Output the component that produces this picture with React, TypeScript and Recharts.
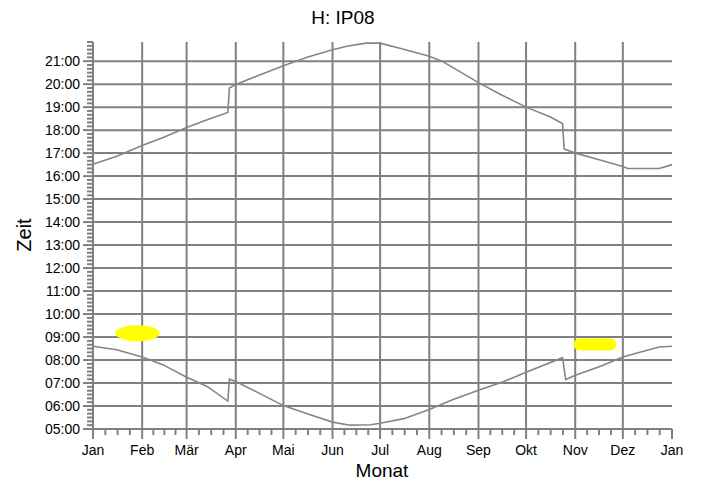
import React from 'react';
import { LineChart, Line, XAxis, YAxis, CartesianGrid, ReferenceArea } from 'recharts';

const monthLabels = ['Jan', 'Feb', 'Mär', 'Apr', 'Mai', 'Jun', 'Jul', 'Aug', 'Sep', 'Okt', 'Nov', 'Dez', 'Jan'];
const monthStarts = [0, 31, 59, 90, 120, 151, 181, 212, 243, 273, 304, 334, 365];

const hourLabels = ['05:00', '06:00', '07:00', '08:00', '09:00', '10:00', '11:00', '12:00', '13:00',
    '14:00', '15:00', '16:00', '17:00', '18:00', '19:00', '20:00', '21:00'];

// Sonnenuntergang (Tag im Jahr, Uhrzeit)
const sunsetDays = [0, 15, 31, 45, 59, 72, 85, 86, 90, 105, 120, 135, 151, 160, 172, 181, 194, 212, 220,
    243, 257, 273, 288, 296, 297, 304, 318, 334, 337, 357, 365];
const sunsetTimes = ['16:31', '16:52', '17:20', '17:42', '18:07', '18:27', '18:46', '19:50', '19:59', '20:24',
    '20:48', '21:10', '21:30', '21:39', '21:47', '21:47', '21:33', '21:13', '21:00', '20:04', '19:33', '19:00',
    '18:35', '18:17', '17:11', '17:00', '16:44', '16:25', '16:20', '16:20', '16:30'];

// Sonnenaufgang
const sunriseDays = [0, 15, 31, 44, 59, 72, 85, 86, 90, 105, 120, 135, 151, 162, 175, 181, 196, 212, 227,
    243, 259, 273, 296, 298, 304, 320, 334, 347, 357, 365];
const sunriseTimes = ['08:36', '08:27', '08:08', '07:48', '07:15', '06:51', '06:13', '07:10', '07:04', '06:33',
    '06:01', '05:40', '05:18', '05:10', '05:11', '05:15', '05:27', '05:51', '06:17', '06:41', '07:04', '07:28',
    '08:06', '07:09', '07:20', '07:44', '08:08', '08:23', '08:34', '08:36'];

// gelbe Markierungen
const markerDays = [[14, 42], [303, 330]];
const markerTimes = [['08:49', '09:31'], ['08:25', '08:56']];

const GRID = '#808080';
const FONT = 'Arial, "Liberation Sans", sans-serif';

const toMin = (s: string) => {
    const [h, m] = s.split(':').map(Number);
    return h * 60 + m;
};

const sunset = sunsetDays.map((d, i) => ({ day: d, t: toMin(sunsetTimes[i]) }));
const sunrise = sunriseDays.map((d, i) => ({ day: d, t: toMin(sunriseTimes[i]) }));

const hourValues = hourLabels.map(toMin);
const yTicks: number[] = [];
for (let v = 300; v <= 1310; v += 10) yTicks.push(v);

const xTicks: number[] = [];
monthStarts.forEach((s, i) => {
    xTicks.push(s);
    if (i < monthStarts.length - 1) {
        const len = monthStarts[i + 1] - s;
        for (let k = 1; k < 4; k++) xTicks.push(s + (len * k) / 4);
    }
});

const XTick = (props: any) => {
    const { x, y, payload } = props;
    const idx = monthStarts.indexOf(payload.value);
    const major = idx >= 0;
    return (
        <g>
            <line x1={x} y1={y} x2={x} y2={y + (major ? 10 : 6)} stroke={GRID} strokeWidth={2} />
            {major && (
                <text x={x} y={y + 26} textAnchor="middle" fontSize={14} fill="#000" fontFamily={FONT}>
                    {monthLabels[idx]}
                </text>
            )}
        </g>
    );
};

const YTick = (props: any) => {
    const { x, y, payload } = props;
    const idx = hourValues.indexOf(payload.value);
    const major = idx >= 0;
    return (
        <g>
            <line x1={x - (major ? 10 : 6)} y1={y} x2={x} y2={y} stroke={GRID} strokeWidth={2} />
            {major && (
                <text x={x - 13} y={y} dy={5} textAnchor="end" fontSize={14} fill="#000" fontFamily={FONT}>
                    {hourLabels[idx]}
                </text>
            )}
        </g>
    );
};

const Marker = (props: any) => {
    const { x, y, width, height, round } = props;
    if (round) {
        return <ellipse cx={x + width / 2} cy={y + height / 2} rx={width / 2} ry={height / 2} fill="#ffff00" />;
    }
    return <rect x={x} y={y} width={width} height={height} rx={height / 2} ry={height / 2} fill="#ffff00" />;
};

const App: React.FC = () => {
    return (
        <div style={{ position: 'absolute', left: 0, top: 0, width: 701, height: 486, background: '#fff', fontFamily: FONT }}>
            <LineChart width={701} height={486} margin={{ top: 42, right: 29, bottom: 0, left: 0 }}>
                <CartesianGrid
                    stroke={GRID}
                    strokeWidth={2}
                    horizontalValues={hourValues}
                    verticalValues={monthStarts.slice(1, -1)}
                />
                <XAxis
                    type="number"
                    dataKey="day"
                    domain={[0, 365]}
                    ticks={xTicks}
                    interval={0}
                    tickSize={0}
                    tickMargin={0}
                    tickLine={false}
                    tick={<XTick />}
                    axisLine={{ stroke: GRID, strokeWidth: 2 }}
                    height={57}
                    allowDecimals
                />
                <YAxis
                    type="number"
                    domain={[300, 1310]}
                    ticks={yTicks}
                    interval={0}
                    tickSize={0}
                    tickMargin={0}
                    tickLine={false}
                    tick={<YTick />}
                    axisLine={{ stroke: GRID, strokeWidth: 2 }}
                    width={93}
                />
                {markerDays.map((d, i) => (
                    <ReferenceArea
                        key={i}
                        x1={d[0]}
                        x2={d[1]}
                        y1={toMin(markerTimes[i][0])}
                        y2={toMin(markerTimes[i][1])}
                        shape={(p: any) => <Marker {...p} round={i === 0} />}
                    />
                ))}
                <Line data={sunset} dataKey="t" type="linear" stroke="#858585" strokeWidth={1.6} dot={false} isAnimationActive={false} />
                <Line data={sunrise} dataKey="t" type="linear" stroke="#858585" strokeWidth={1.6} dot={false} isAnimationActive={false} />
                <text x={343} y={24} textAnchor="middle" fontSize={19} fill="#000" fontFamily={FONT}>H: IP08</text>
                <text x={382} y={477} textAnchor="middle" fontSize={19} fill="#000" fontFamily={FONT}>Monat</text>
                <text x={31} y={235} transform="rotate(-90 31 235)" textAnchor="middle" fontSize={20} fill="#000" fontFamily={FONT}>Zeit</text>
            </LineChart>
        </div>
    );
};

export default App;
